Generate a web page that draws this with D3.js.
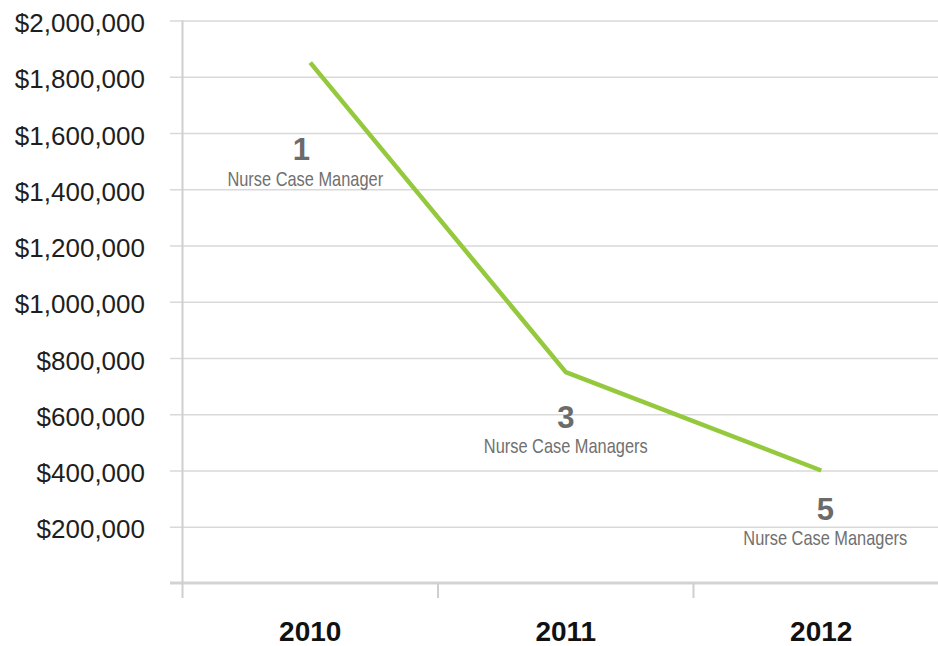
<!DOCTYPE html>
<html>
<head>
<meta charset="utf-8">
<script src="https://cdn.jsdelivr.net/npm/d3@7"></script>
<style>
  html, body { margin: 0; padding: 0; background: #fff; overflow: hidden; }
  svg { display: block; }
  .y-label text { font-family: "Liberation Sans", Arial, sans-serif; font-size: 26px; fill: #1e1e1e; }
  .x-label { font-family: "Liberation Sans", Arial, sans-serif; font-weight: bold; font-size: 28px; fill: #111; }
  .ann-num { font-family: "Liberation Sans", Arial, sans-serif; font-weight: bold; font-size: 31px; fill: #6b6b6b; }
  .ann-text { font-family: "Liberation Sans", Arial, sans-serif; font-size: 20px; fill: #707070; }
</style>
</head>
<body>
<svg width="938" height="646"></svg>
<script>
//  Chart data
const years = ['2010', '2011', '2012'];
const costs = [1850000, 750000, 400000];
const staffCounts = ['1', '3', '5'];
const staffLabels = ['Nurse Case Manager', 'Nurse Case Managers', 'Nurse Case Managers'];
const yTicks = [200000, 400000, 600000, 800000, 1000000, 1200000, 1400000, 1600000, 1800000, 2000000];

//  Annotation offsets from each point, in pixels
const annDx = [-9, 0, 4];
const annDy = [97, 56, 49];

const svg = d3.select('svg');
const margin = { top: 20.5, left: 182.5, bottom: 63 };
const width = 938, height = 646;
const axisY = height - margin.bottom;

//======================================
//  Scales
//======================================
const xScale = d3.scaleBand()
    .domain(years)
    .range([margin.left, margin.left + 3 * 255.5])
    .padding(0);

const yScale = d3.scaleLinear()
    .domain([0, 2000000])
    .range([axisY, margin.top]);

//======================================
//  Gridlines
//======================================
const grid = svg.append('g')
    .attr('transform', 'translate(170,0)')
    .call(d3.axisRight(yScale).tickValues(yTicks).tickSize(width - 170).tickFormat(''));
grid.select('.domain').remove();
grid.selectAll('line').attr('stroke', '#d9d9d9').attr('stroke-width', 1.5);

//======================================
//  Y labels
//======================================
const yAxis = svg.append('g')
    .attr('class', 'y-label')
    .attr('transform', 'translate(145,0)')
    .call(d3.axisLeft(yScale).tickValues(yTicks).tickSize(0).tickPadding(0)
        .tickFormat(d => '$' + d3.format(',')(d)));
yAxis.select('.domain').remove();
yAxis.selectAll('text').attr('dy', '0.62em').attr('y', -5);

//======================================
//  Axes lines
//======================================
svg.append('line')
    .attr('x1', 170).attr('x2', width)
    .attr('y1', axisY).attr('y2', axisY)
    .attr('stroke', '#d3d3d3').attr('stroke-width', 3);

svg.append('line')
    .attr('x1', margin.left).attr('x2', margin.left)
    .attr('y1', margin.top).attr('y2', axisY + 15)
    .attr('stroke', '#cfcfcf').attr('stroke-width', 2);

svg.append('g').selectAll('line')
    .data(years.slice(1))
    .enter().append('line')
    .attr('x1', d => xScale(d)).attr('x2', d => xScale(d))
    .attr('y1', axisY).attr('y2', axisY + 15)
    .attr('stroke', '#cfcfcf').attr('stroke-width', 2);

svg.append('g').selectAll('text')
    .data(years)
    .enter().append('text')
    .attr('class', 'x-label')
    .attr('text-anchor', 'middle')
    .attr('x', d => xScale(d) + xScale.bandwidth() / 2)
    .attr('y', 641)
    .text(d => d);

//======================================
//  Line
//======================================
const line = d3.line()
    .x((d, i) => xScale(years[i]) + xScale.bandwidth() / 2)
    .y(d => yScale(d));

svg.append('path')
    .datum(costs)
    .attr('d', line)
    .attr('fill', 'none')
    .attr('stroke', '#95c93d')
    .attr('stroke-width', 4.5)
    .attr('stroke-linejoin', 'round');

//======================================
//  Annotations
//======================================
const ann = svg.append('g').selectAll('g')
    .data(costs)
    .enter().append('g')
    .attr('transform', (d, i) => `translate(${xScale(years[i]) + xScale.bandwidth() / 2 + annDx[i]},${yScale(d) + annDy[i]})`);

ann.append('text')
    .attr('class', 'ann-num')
    .attr('text-anchor', 'middle')
    .text((d, i) => staffCounts[i]);

//  Condensed look: squeeze a regular face horizontally
ann.append('text')
    .attr('class', 'ann-text')
    .attr('text-anchor', 'middle')
    .attr('transform', (d, i) => `translate(${i === 0 ? 4 : 0},${i === 0 ? 26 : 25}) scale(0.82,1)`)
    .text((d, i) => staffLabels[i]);
</script>
</body>
</html>
